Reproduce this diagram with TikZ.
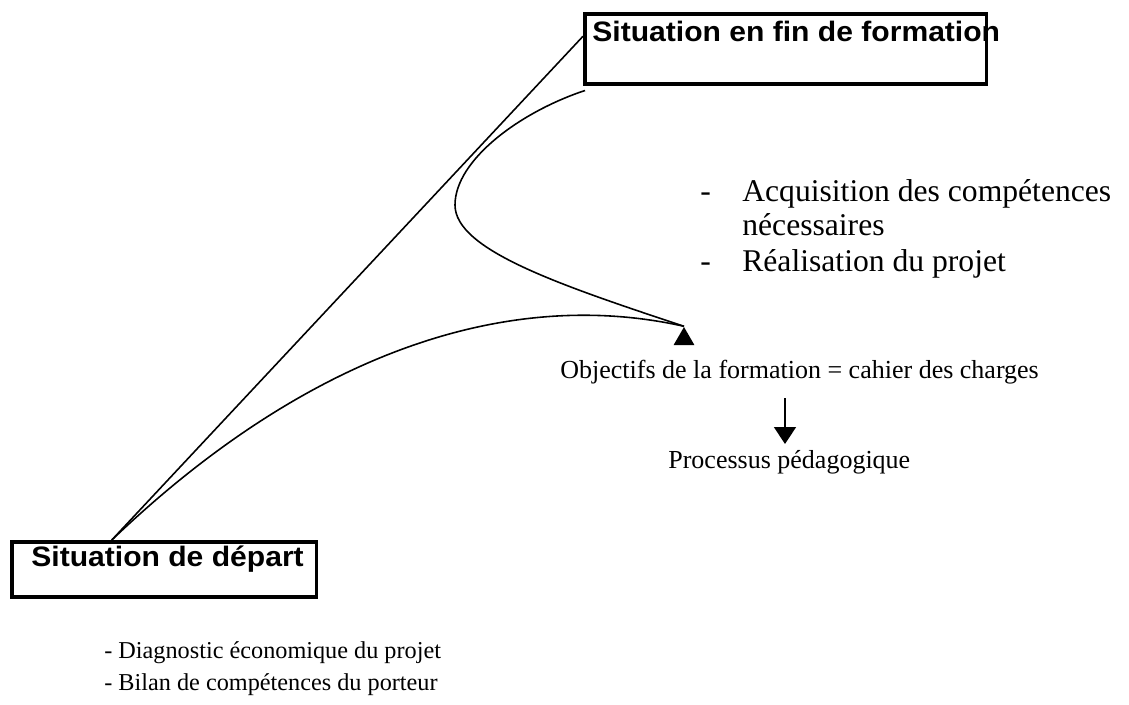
\documentclass[tikz,border=0pt]{standalone}
\usepackage{fontspec}
\setmainfont{Liberation Serif}
\newfontfamily\boxfont[FakeStretch=1.07]{Liberation Sans Bold}
\usetikzlibrary{arrows.meta,calc,shapes.geometric}

\begin{document}
\begin{tikzpicture}[x=0.02cm, y=-0.02cm,
  cadre/.style={draw, line width=2pt, inner sep=0pt, anchor=north west},
  titre/.style={font=\boxfont\fontsize{16}{18}\selectfont, anchor=base west, inner sep=0pt},
  texte/.style={font=\fontsize{13.8}{16}\selectfont, inner sep=0pt, anchor=base west},
  moyen/.style={texte, font=\fontsize{14.8}{16}\selectfont},
  grand/.style={texte, font=\fontsize{18}{20}\selectfont},
  fleche/.style={line width=0.9pt},
  pointe/.style={regular polygon, regular polygon sides=3, fill=black, inner sep=0pt, minimum size=0.48cm}]
\useasboundingbox (0,0) rectangle (1129,704);

% situation en fin de formation
\node[titre] (finlabel) at (592,41) {Situation en fin de formation};
\node[cadre, minimum width=8.04cm, minimum height=1.4cm] (fin) at (583,12) {};

% situation de depart
\node[titre] (departlabel) at (31,566) {Situation de départ};
\node[cadre, minimum width=6.1cm, minimum height=1.1cm] (depart) at (10,540) {};

% listes
\node[grand] (tiret1) at (700,201) {-};
\node[grand] (acquisition) at (742,201) {Acquisition des compétences};
\node[grand] (necessaires) at (742,235) {nécessaires};
\node[grand] (tiret2) at (700,271) {-};
\node[grand] (realisation) at (742,271) {Réalisation du projet};
\node[texte] (diagnostic) at (104,658) {- Diagnostic économique du projet};
\node[texte] (bilan) at (104,690) {- Bilan de compétences du porteur};

% objectifs
\node[moyen] (objectifs) at (560,378) {Objectifs de la formation = cahier des charges};
\node[moyen] (processus) at (668,468) {Processus pédagogique};
\node[pointe] (pointe1) at (684,339) {};

\coordinate (bas) at ($(depart.north west)!0.33!(depart.north east)$);
\coordinate (haut) at ($(fin.north west)!0.33!(fin.south west)$);
\coordinate (coin) at ([xshift=0.04cm,yshift=-0.1cm]fin.south west);
\coordinate (debut) at (785,398);
\coordinate (fin2) at (785,444);

\draw[fleche] (bas) -- (haut);
\draw[fleche] (bas) .. controls (300,360) and (500,285) .. (pointe1.north);
\draw[fleche] (coin) .. controls (520,112) and (455,160) .. (455,205)
  .. controls (455,250) and (560,285) .. (pointe1.north);
\draw[fleche, -{Triangle[width=0.44cm,length=0.34cm]}] (debut) -- (fin2);

\end{tikzpicture}
\end{document}
